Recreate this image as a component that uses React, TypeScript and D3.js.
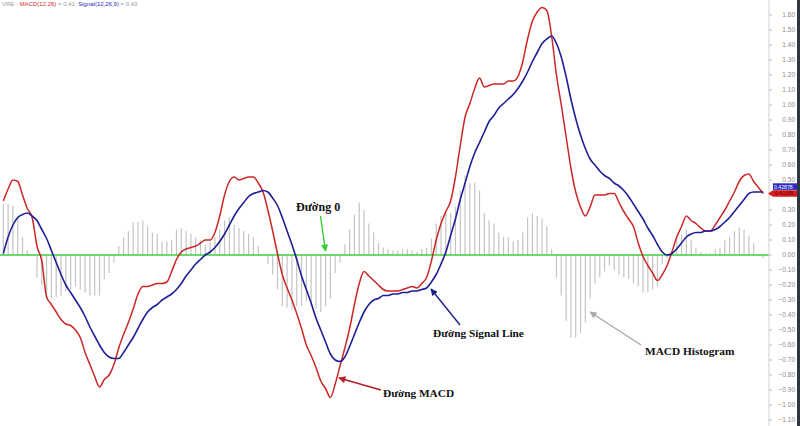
import React from "react";
import * as d3 from "d3";

const macd = [
  0.36, 0.44, 0.50, 0.49, 0.40, 0.31, 0.25, 0.06, -0.04, -0.28,
  -0.33, -0.38, -0.43, -0.46, -0.47, -0.50, -0.55, -0.65, -0.73, -0.81,
  -0.88, -0.83, -0.80, -0.73, -0.62, -0.53, -0.45, -0.36, -0.26, -0.21,
  -0.21, -0.20, -0.19, -0.19, -0.18, -0.11, -0.03, 0.02, 0.04, 0.05,
  0.06, 0.08, 0.10, 0.10, 0.15, 0.26, 0.40, 0.49, 0.52, 0.50,
  0.51, 0.52, 0.52, 0.48, 0.42, 0.30, 0.16, 0.01, -0.13, -0.22,
  -0.30, -0.39, -0.49, -0.60, -0.67, -0.75, -0.84, -0.89, -0.95, -0.86,
  -0.74, -0.62, -0.49, -0.33, -0.19, -0.11, -0.14, -0.17, -0.20, -0.23,
  -0.24, -0.24, -0.24, -0.23, -0.22, -0.21, -0.22, -0.19, -0.15, -0.04,
  0.10, 0.21, 0.29, 0.36, 0.52, 0.73, 0.92, 1.01, 1.11, 1.18,
  1.12, 1.13, 1.14, 1.14, 1.14, 1.16, 1.16, 1.19, 1.29, 1.44,
  1.56, 1.62, 1.65, 1.63, 1.46, 1.20, 1.00, 0.79, 0.58, 0.42,
  0.32, 0.26, 0.32, 0.40, 0.40, 0.40, 0.41, 0.41, 0.35, 0.29,
  0.24, 0.19, 0.08, -0.01, -0.07, -0.12, -0.17, -0.13, -0.07, 0.02,
  0.12, 0.19, 0.26, 0.23, 0.21, 0.18, 0.16, 0.16, 0.20, 0.25,
  0.30, 0.36, 0.42, 0.49, 0.53, 0.54, 0.49, 0.45, 0.41,
];

const signal = [
  0.01, 0.12, 0.20, 0.25, 0.27, 0.28, 0.26, 0.23, 0.17, 0.11,
  0.03, -0.05, -0.13, -0.20, -0.25, -0.30, -0.35, -0.41, -0.48, -0.54,
  -0.60, -0.65, -0.68, -0.69, -0.69, -0.65, -0.60, -0.55, -0.49, -0.43,
  -0.38, -0.35, -0.33, -0.30, -0.28, -0.26, -0.23, -0.19, -0.14, -0.10,
  -0.06, -0.03, 0.00, 0.02, 0.05, 0.09, 0.14, 0.20, 0.26, 0.31,
  0.35, 0.39, 0.41, 0.42, 0.43, 0.42, 0.38, 0.33, 0.25, 0.16,
  0.07, -0.03, -0.14, -0.23, -0.32, -0.42, -0.50, -0.58, -0.66, -0.70,
  -0.71, -0.68, -0.61, -0.53, -0.45, -0.38, -0.33, -0.30, -0.29, -0.27,
  -0.27, -0.26, -0.26, -0.25, -0.25, -0.24, -0.24, -0.23, -0.22, -0.18,
  -0.13, -0.06, 0.02, 0.13, 0.24, 0.37, 0.48, 0.59, 0.68, 0.75,
  0.82, 0.89, 0.93, 0.98, 1.01, 1.04, 1.07, 1.11, 1.16, 1.22,
  1.29, 1.35, 1.41, 1.44, 1.46, 1.41, 1.32, 1.19, 1.04, 0.91,
  0.80, 0.71, 0.64, 0.60, 0.56, 0.53, 0.51, 0.48, 0.46, 0.43,
  0.39, 0.34, 0.29, 0.24, 0.18, 0.13, 0.07, 0.02, 0.00, 0.01,
  0.04, 0.08, 0.12, 0.14, 0.15, 0.15, 0.16, 0.16, 0.17, 0.19,
  0.22, 0.25, 0.29, 0.33, 0.37, 0.41, 0.42, 0.42, 0.42,
];

const histogram = [
  0.34, 0.34, 0.33, 0.25, 0.12, 0.03, 0.00, -0.15, -0.20, -0.29,
  -0.29, -0.28, -0.27, -0.24, -0.23, -0.21, -0.23, -0.25, -0.27, -0.27,
  -0.27, -0.16, -0.12, -0.05, 0.06, 0.12, 0.16, 0.22, 0.22, 0.23,
  0.19, 0.15, 0.14, 0.09, 0.09, 0.10, 0.17, 0.18, 0.16, 0.14,
  0.12, 0.10, 0.07, 0.09, 0.12, 0.17, 0.23, 0.25, 0.20, 0.18,
  0.16, 0.14, 0.12, 0.06, 0.00, -0.06, -0.13, -0.23, -0.34, -0.35,
  -0.36, -0.34, -0.34, -0.31, -0.34, -0.36, -0.38, -0.34, -0.29, -0.12,
  -0.05, 0.07, 0.17, 0.27, 0.35, 0.30, 0.21, 0.15, 0.08, 0.05,
  0.04, 0.03, 0.03, 0.04, 0.04, 0.03, 0.02, 0.04, 0.05, 0.11,
  0.21, 0.26, 0.28, 0.28, 0.32, 0.43, 0.53, 0.48, 0.48, 0.43,
  0.28, 0.23, 0.21, 0.15, 0.12, 0.12, 0.09, 0.10, 0.15, 0.25,
  0.28, 0.26, 0.24, 0.19, 0.04, -0.15, -0.27, -0.44, -0.55, -0.55,
  -0.52, -0.45, -0.29, -0.19, -0.15, -0.11, -0.07, -0.10, -0.13, -0.15,
  -0.16, -0.19, -0.21, -0.25, -0.25, -0.23, -0.21, -0.06, -0.02, 0.02,
  0.11, 0.14, 0.17, 0.10, 0.05, 0.02, 0.01, 0.01, 0.04, 0.05,
  0.10, 0.12, 0.16, 0.18, 0.17, 0.13, 0.08, 0.00, -0.02,
];

const tickValues = d3.range(-11, 17).map((d) => d / 10);
const titleParts = [
  { text: "VRE - ", color: "#9a9a9a" },
  { text: "MACD(12,26)", color: "#d42a2a" },
  { text: " = 0.41, ", color: "#9a9a9a" },
  { text: "Signal(12,26,9)", color: "#2a2ab0" },
  { text: " = 0.43", color: "#9a9a9a" },
];
const signalTag = "0.42878";
const macdTag = "0.41085";

const W = 800;
const H = 426;
const PLOT_RIGHT = 769;

export default function App() {
  const x = d3.scaleLinear().domain([0, macd.length - 1]).range([3.3, 763.3]);
  const y = d3.scaleLinear().domain([-1.14, 1.7]).range([H, 0]);

  const line = d3
    .line<number>()
    .x((_, i) => x(i))
    .y((d) => y(d))
    .curve(d3.curveMonotoneX);

  const fmt = d3.format(".2f");
  const lastMacdY = y(macd[macd.length - 1]);
  const tagTop = lastMacdY - 10.2;
  const tagBottom = lastMacdY + 3.2;
  const serif = "'Liberation Serif', 'Times New Roman', serif";
  const sans = "'Liberation Sans', Arial, sans-serif";

  return (
    <div style={{ position: "absolute", left: 0, top: 0 }}>
      <svg width={W} height={H} style={{ display: "block", background: "#fff" }}>
        <defs>
          {[
            ["arrGreen", "#2fcf2f"],
            ["arrBlue", "#1c1c8c"],
            ["arrRed", "#b51f1f"],
            ["arrGrey", "#a8a8a8"],
          ].map(([id, c]) => (
            <marker
              key={id}
              id={id}
              viewBox="0 0 10 10"
              refX="9"
              refY="5"
              markerWidth="9"
              markerHeight="7"
              markerUnits="userSpaceOnUse"
              orient="auto"
            >
              <path d="M0,0 L10,5 L0,10 z" fill={c} />
            </marker>
          ))}
        </defs>
        <rect x={0} y={0} width={W} height={H} fill="#ffffff" />

        {/* histogram */}
        <g stroke="#c4c4c4" strokeWidth={1.2}>
          {histogram.map((v, i) => (
            <line key={i} x1={x(i)} x2={x(i)} y1={y(0)} y2={y(v)} />
          ))}
        </g>

        {/* zero line */}
        <line x1={0} x2={PLOT_RIGHT} y1={y(0)} y2={y(0)} stroke="#3ccf3c" strokeWidth={1.6} />

        {/* lines */}
        <path d={line(macd) || ""} fill="none" stroke="#cc2626" strokeWidth={1.5} />
        <path d={line(signal) || ""} fill="none" stroke="#1e1e96" strokeWidth={1.6} />

        {/* right axis */}
        <line x1={PLOT_RIGHT} x2={PLOT_RIGHT} y1={0} y2={H} stroke="#d0d0d0" strokeWidth={1} />
        <g fontFamily={sans} fontSize={6.5} fill="#8c8c8c">
          {tickValues.map((t) => (
            <g key={t}>
              <line x1={PLOT_RIGHT} x2={PLOT_RIGHT + 3} y1={y(t)} y2={y(t)} stroke="#bdbdbd" />
              {y(t) > tagTop - 2 && y(t) < tagBottom + 2 ? null : (
                <text x={795} y={y(t)} dy="0.35em" textAnchor="end">
                  {fmt(t)}
                </text>
              )}
            </g>
          ))}
        </g>
        <rect x={797} y={0} width={3} height={H} fill="#2f3642" />

        {/* value tags */}
        <path
          d={`M${PLOT_RIGHT - 1},${lastMacdY} L${773},${lastMacdY - 3.2} L${797},${lastMacdY - 3.2} L${797},${tagBottom} L${773},${tagBottom} Z`}
          fill="#d41e1e"
        />
        <text x={775} y={lastMacdY + 1.9} fontSize={5.2} fill="#7a0000" fontFamily={sans}>
          {macdTag}
        </text>
        <rect x={773} y={tagTop} width={24} height={6.6} fill="#2b2bc4" />
        <text x={774} y={lastMacdY - 4.9} fontSize={5.2} fill="#ffffff" fontFamily={sans}>
          {signalTag}
        </text>

        {/* title */}
        <text x={2} y={6} fontSize={6} fontFamily={sans}>
          {titleParts.map((p, i) => (
            <tspan key={i} fill={p.color}>
              {p.text}
            </tspan>
          ))}
        </text>

        {/* annotations */}
        <g fontFamily={serif} fontWeight="bold" fontSize={11.3} fill="#111">
          <text x={296} y={211} fontSize={12}>Đường 0</text>
          <text x={433} y={337}>Đường Signal Line</text>
          <text x={383} y={397}>Đường MACD</text>
          <text x={645} y={355}>MACD Histogram</text>
        </g>
        <line x1={320.5} y1={216} x2={325.5} y2={251} stroke="#2fcf2f" strokeWidth={1.4} markerEnd="url(#arrGreen)" />
        <line x1={460} y1={325} x2={431} y2={289} stroke="#1c1c8c" strokeWidth={1.4} markerEnd="url(#arrBlue)" />
        <line x1={381} y1={390} x2={339} y2={378} stroke="#b51f1f" strokeWidth={1.6} markerEnd="url(#arrRed)" />
        <line x1={641} y1={345} x2={590} y2={312} stroke="#a8a8a8" strokeWidth={1.4} markerEnd="url(#arrGrey)" />
      </svg>
    </div>
  );
}
